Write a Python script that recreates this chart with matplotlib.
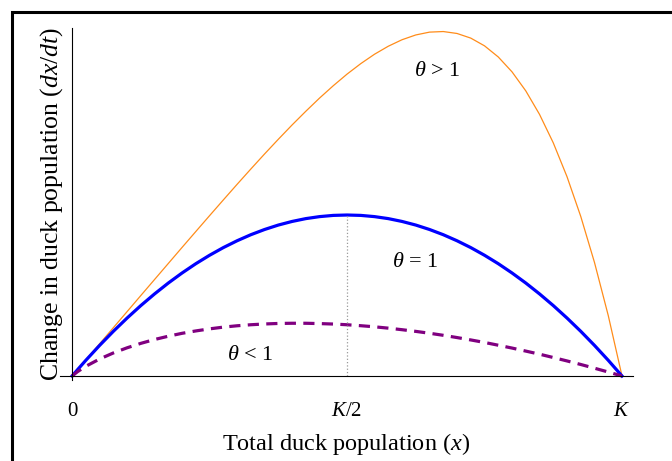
import matplotlib
matplotlib.use("Agg")
import matplotlib.pyplot as plt
from matplotlib.patches import Rectangle

plt.rcParams['font.family'] = ['Liberation Serif', 'DejaVu Serif']
plt.rcParams['mathtext.fontset'] = 'custom'
plt.rcParams['mathtext.rm'] = 'Liberation Serif'
plt.rcParams['mathtext.it'] = 'Liberation Serif:italic'

# population as a share of K
pop = [0, 0.01, 0.025, 0.05, 0.075, 0.1, 0.125, 0.15, 0.175, 0.2, 0.225, 0.25, 0.275,
       0.3, 0.325, 0.35, 0.375, 0.4, 0.425, 0.45, 0.475, 0.5, 0.525, 0.55, 0.575,
       0.6, 0.625, 0.65, 0.675, 0.7, 0.725, 0.75, 0.775, 0.8, 0.825, 0.85, 0.875,
       0.9, 0.925, 0.95, 0.975, 1.0]

# change in population
theta_one = [0, 0.0099, 0.0244, 0.0475, 0.0694, 0.09, 0.1094, 0.1275, 0.1444, 0.16, 0.1744,
             0.1875, 0.1994, 0.21, 0.2194, 0.2275, 0.2344, 0.24, 0.2444, 0.2475, 0.2494, 0.25,
             0.2494, 0.2475, 0.2444, 0.24, 0.2344, 0.2275, 0.2194, 0.21, 0.1994, 0.1875,
             0.1744, 0.16, 0.1444, 0.1275, 0.1094, 0.09, 0.0694, 0.0475, 0.0244, 0]
theta_big = [0, 0.01, 0.025, 0.05, 0.075, 0.1, 0.125, 0.1499, 0.1748, 0.1997, 0.2244,
             0.249, 0.2734, 0.2976, 0.3214, 0.3448, 0.3676, 0.3898, 0.4111, 0.4316, 0.4508, 0.4688,
             0.4851, 0.4997, 0.5121, 0.5222, 0.5296, 0.534, 0.5349, 0.5319, 0.5247, 0.5127,
             0.4954, 0.4723, 0.4428, 0.4063, 0.3621, 0.3095, 0.2478, 0.1762, 0.0939, 0]
theta_small = [0, 0.0068, 0.0151, 0.0264, 0.0358, 0.0438, 0.0507, 0.0567, 0.0618, 0.0663, 0.07,
               0.0732, 0.0759, 0.078, 0.0796, 0.0808, 0.0816, 0.0819, 0.0819, 0.0814, 0.0807, 0.0796,
               0.0781, 0.0764, 0.0743, 0.0719, 0.0693, 0.0664, 0.0632, 0.0597, 0.056, 0.0521,
               0.0478, 0.0434, 0.0387, 0.0339, 0.0287, 0.0234, 0.0179, 0.0121, 0.0062, 0]

tick_pos = [0, 0.5, 1]
tick_labels = ['0', '$K/2$', '$K$']

fig = plt.figure(figsize=(6.72, 4.61), dpi=100)
ax = fig.add_axes([60/672, 81/461, 573/672, 352/461])

ax.plot(pop, theta_big, color='#ff8c1a', lw=0.9)
ax.plot(pop, theta_one, color='#0000ff', lw=2.3)
ax.plot(pop, theta_small, color='#800080', lw=2.3, dashes=(3.5, 2.3))
ax.plot([0.5, 0.5], [0, 0.25], color='#999999', lw=0.9, ls=':')

ax.text(0.664, 0.473, r'$\theta$ > 1', fontsize=16, ha='center', va='center')
ax.text(0.624, 0.177, r'$\theta$ = 1', fontsize=16, ha='center', va='center')
ax.text(0.324, 0.032, r'$\theta$ < 1', fontsize=16, ha='center', va='center')

for s in ['top', 'right']:
    ax.spines[s].set_visible(False)
ax.spines['left'].set_position(('data', 0))
ax.spines['bottom'].set_position(('data', 0))
ax.set_xlim(-0.022, 1.02)
ax.set_ylim(-0.0062, 0.5404)
ax.spines['left'].set_bounds(-0.0062, 0.5404)
ax.set_xticks(tick_pos)
ax.set_xticklabels(tick_labels)
ax.set_yticks([])
ax.tick_params(axis='x', length=0, pad=19, labelsize=15)
ax.set_xlabel('Total duck population ($x$)', fontsize=17.5, labelpad=7)
ax.set_ylabel('Change in duck population ($dx/dt$)', fontsize=18.5, labelpad=5)

fig.patches.append(Rectangle((12/672, -0.5), 2, 1.5 - 12/461, transform=fig.transFigure,
                             fill=False, edgecolor='black', lw=2.2))

fig.savefig('out.png', dpi=100)
